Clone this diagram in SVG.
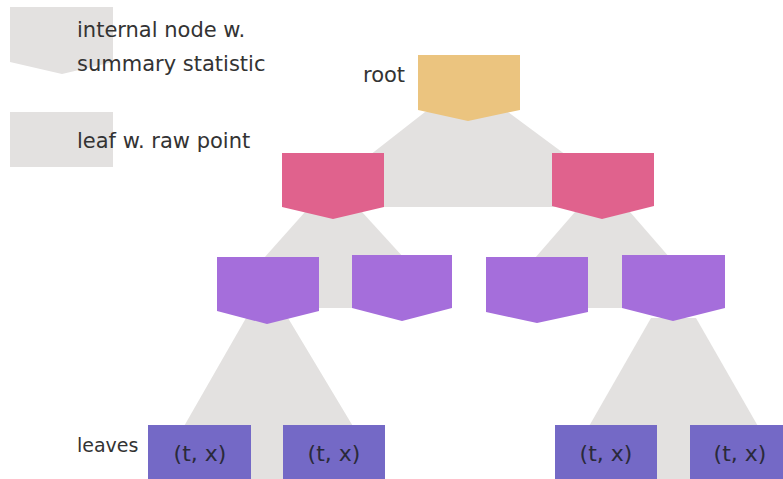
<svg xmlns="http://www.w3.org/2000/svg" width="783" height="479" viewBox="0 0 783 479">
<style>
.gray{fill:#E3E1E0}
.root{fill:#EBC47F}
.pink{fill:#E0628D}
.purple{fill:#A56EDB}
.leaf{fill:#7469C6}
.lbl{font-family:"DejaVu Sans","Liberation Sans",sans-serif;font-size:21px;fill:#333333}
.lt{font-family:"DejaVu Sans","Liberation Sans",sans-serif;font-size:22px;fill:#2a2a3a;text-anchor:middle}
</style>
<rect width="783" height="479" fill="#ffffff"/>
<g id="legend">
<polygon class="gray" points="10,7 113,7 113,62 62,74 10,62"/>
<rect class="gray" x="10" y="112" width="103" height="55"/>
<text class="lbl" x="77" y="37">internal node w.</text>
<text class="lbl" x="77" y="71">summary statistic</text>
<text class="lbl" x="77" y="148">leaf w. raw point</text>
</g>
<g id="connectors">
<polygon class="gray" points="425,112 508,112 566,155 566,207 370,207 370,155"/>
<polygon class="gray" points="305,212 362,212 404,258 404,308 264,308 264,258"/>
<polygon class="gray" points="575,212 630,212 670,258 670,308 535,308 535,258"/>
<polygon class="gray" points="246,318 288,318 354,428 354,479 183,479 183,428"/>
<polygon class="gray" points="651,318 696,318 759,428 759,479 588,479 588,428"/>
</g>
<g id="root">
<polygon class="root" points="418,55 520,55 520,110 468,121 418,110"/>
<text class="lbl" x="363" y="82">root</text>
</g>
<g id="n1">
<polygon class="pink" points="282,153 384,153 384,207 333,219 282,207"/>
</g>
<g id="n2">
<polygon class="pink" points="552,153 654,153 654,206 602,219 552,206"/>
</g>
<g id="n11">
<polygon class="purple" points="217,257 319,257 319,311 267,324 217,311"/>
</g>
<g id="n12">
<polygon class="purple" points="352,255 452,255 452,308 402,321 352,308"/>
</g>
<g id="n21">
<polygon class="purple" points="486,257 588,257 588,312 537,323 486,312"/>
</g>
<g id="n22">
<polygon class="purple" points="622,255 725,255 725,308 673,321 622,308"/>
</g>
<g id="leaves-label">
<text class="lbl" x="77" y="452" style="font-size:19px">leaves</text>
</g>
<g id="leaf1">
<rect class="leaf" x="148" y="425" width="103" height="60"/>
<text class="lt" x="200" y="461">(t, x)</text>
</g>
<g id="leaf2">
<rect class="leaf" x="283" y="425" width="102" height="60"/>
<text class="lt" x="334" y="461">(t, x)</text>
</g>
<g id="leaf3">
<rect class="leaf" x="555" y="425" width="102" height="60"/>
<text class="lt" x="606" y="461">(t, x)</text>
</g>
<g id="leaf4">
<rect class="leaf" x="690" y="425" width="100" height="60"/>
<text class="lt" x="740" y="461">(t, x)</text>
</g>
</svg>
